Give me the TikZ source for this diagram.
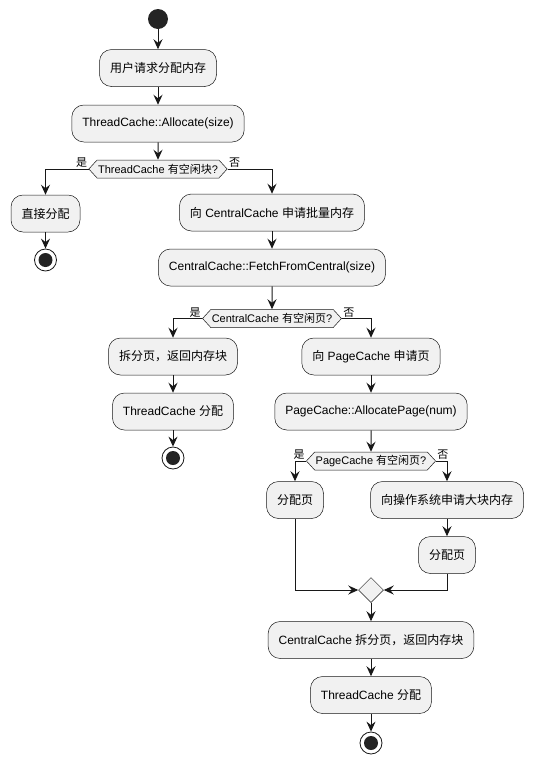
\documentclass[tikz,border=0pt]{standalone}
\usepackage{fontspec}
\setmainfont{Liberation Sans}
\newfontfamily\cjk{Noto Sans CJK SC}
\usetikzlibrary{arrows.meta, shapes.geometric, shapes.symbols}
\definecolor{actfill}{HTML}{F1F1F1}
\definecolor{actline}{HTML}{181818}
\newcommand{\zh}[1]{{\cjk #1}}

\begin{document}
\begin{tikzpicture}[x=1pt, y=-1pt, >={Stealth[length=10pt, width=9pt, inset=3.5pt]},
    act/.style={draw=actline, fill=actfill, line width=0.5pt, rounded corners=12pt,
      minimum height=37pt, inner xsep=10.5pt, font=\fontsize{12}{14}\selectfont},
    ifnode/.style={shape=signal, signal to=west and east, signal pointer angle=95,
      draw=actline, fill=actfill, line width=0.5pt, minimum height=18pt,
      inner xsep=1pt, inner ysep=1pt, font=\fontsize{11}{13}\selectfont},
    mergenode/.style={diamond, draw=actline, fill=actfill, line width=0.5pt,
      minimum size=25pt, inner sep=0pt},
    startnode/.style={circle, fill=actline!95, minimum size=20pt, inner sep=0pt},
    endnode/.style={circle, draw=actline, fill=white, line width=0.8pt, minimum size=22pt,
      inner sep=0pt, path picture={\fill[actline!95] (path picture bounding box.center) circle (7pt);}},
    flow/.style={->, draw=actline, line width=1pt},
    lbl/.style={inner sep=1pt, font=\fontsize{11}{13}\selectfont\cjk}]
  \useasboundingbox (0,0) rectangle (533,764);

  \node[startnode] (start) at (158,19) {};
  \node[act] (req) at (158,68) {\zh{用户请求分配内存}};
  \node[act] (tcalloc) at (158,123.5) {ThreadCache::Allocate(size)};
  \node[ifnode] (iftc) at (158,169) {ThreadCache \zh{有空闲块}?};
  \node[act] (direct) at (45.5,213.5) {\zh{直接分配}};
  \node[endnode] (endA) at (45.5,260) {};

  \node[act] (askcc) at (272,212.5) {\zh{向} CentralCache \zh{申请批量内存}};
  \node[act] (fetch) at (272,267.5) {CentralCache::FetchFromCentral(size)};
  \node[ifnode] (ifcc) at (272,318.5) {CentralCache \zh{有空闲页}?};
  \node[act] (split) at (173,356.5) {\zh{拆分页，返回内存块}};
  \node[act] (tcA) at (173,411.5) {ThreadCache \zh{分配}};
  \node[endnode] (endB) at (173,458) {};

  \node[act] (askpc) at (371,356.5) {\zh{向} PageCache \zh{申请页}};
  \node[act] (pcalloc) at (371,411.5) {PageCache::AllocatePage(num)};
  \node[ifnode] (ifpc) at (371,461) {PageCache \zh{有空闲页}?};
  \node[act] (pageA) at (295,500) {\zh{分配页}};
  \node[act] (oscall) at (447,500) {\zh{向操作系统申请大块内存}};
  \node[act] (pageB) at (447,555) {\zh{分配页}};
  \node[mergenode] (merge) at (371,590) {};
  \node[act] (ccsplit) at (371,640) {CentralCache \zh{拆分页，返回内存块}};
  \node[act] (tcB) at (371,695) {ThreadCache \zh{分配}};
  \node[endnode] (endC) at (371,743) {};

  \draw[flow] (start) -- (req);
  \draw[flow] (req) -- (tcalloc);
  \draw[flow] (tcalloc) -- (iftc);
  \draw[flow] (iftc.west) node[lbl, above left] {是} -| (direct.north);
  \draw[flow] (direct) -- (endA);
  \draw[flow] (iftc.east) node[lbl, above right] {否} -| (askcc.north);
  \draw[flow] (askcc) -- (fetch);
  \draw[flow] (fetch) -- (ifcc);
  \draw[flow] (ifcc.west) node[lbl, above left] {是} -| (split.north);
  \draw[flow] (split) -- (tcA);
  \draw[flow] (tcA) -- (endB);
  \draw[flow] (ifcc.east) node[lbl, above right] {否} -| (askpc.north);
  \draw[flow] (askpc) -- (pcalloc);
  \draw[flow] (pcalloc) -- (ifpc);
  \draw[flow] (ifpc.west) node[lbl, above left] {是} -| (pageA.north);
  \draw[flow] (ifpc.east) node[lbl, above right] {否} -| (oscall.north);
  \draw[flow] (oscall) -- (pageB);
  \draw[flow] (pageA.south) |- (merge.west);
  \draw[flow] (pageB.south) |- (merge.east);
  \draw[flow] (merge) -- (ccsplit);
  \draw[flow] (ccsplit) -- (tcB);
  \draw[flow] (tcB) -- (endC);
\end{tikzpicture}
\end{document}
